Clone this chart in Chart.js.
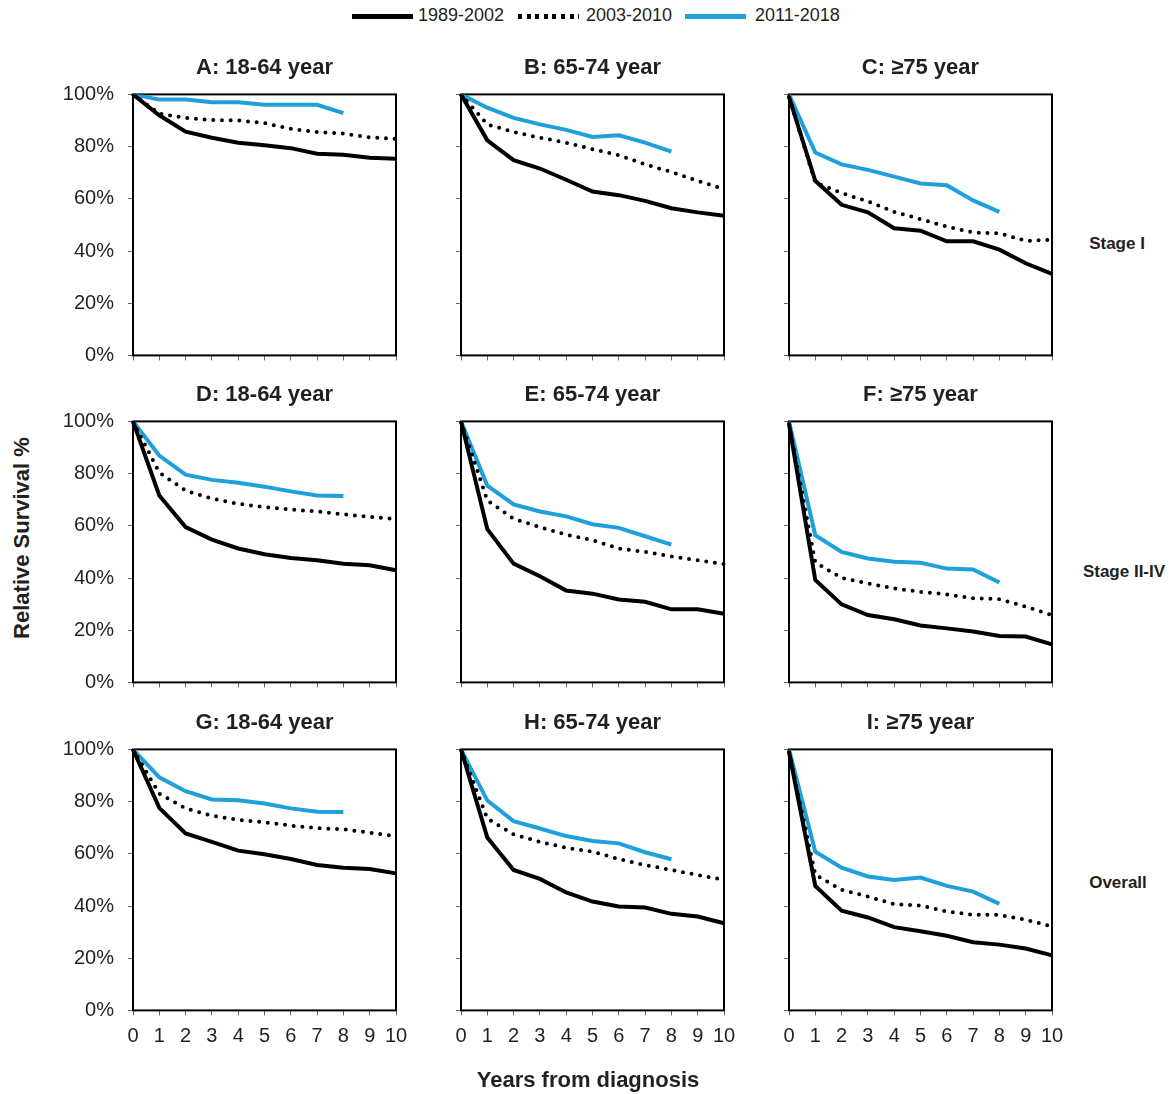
<!DOCTYPE html>
<html>
<head>
<meta charset="utf-8">
<title>Relative survival by stage and age</title>
<script src="https://cdn.jsdelivr.net/npm/chart.js@4.4.1/dist/chart.umd.min.js"></script>
<style>
body{margin:0;background:#fff;font-family:"Liberation Sans",Arial,sans-serif;color:#231f20;}
#page{position:relative;width:1174px;height:1094px;overflow:hidden;}
.box{position:absolute;}
.txt{position:absolute;white-space:nowrap;}
.key{position:absolute;height:5px;}
</style>
</head>
<body>
<div id="page"></div>
<script>
// x axis categories and legend names
const years = ['0','1','2','3','4','5','6','7','8','9','10'];
const periods = ['1989-2002','2003-2010','2011-2018'];
const panelTitles = ['A: 18-64 year','B: 65-74 year','C: \u226575 year',
                     'D: 18-64 year','E: 65-74 year','F: \u226575 year',
                     'G: 18-64 year','H: 65-74 year','I: \u226575 year'];
const rowLabels = ['Stage I','Stage II-IV','Overall'];

// relative survival %
const a1989 = [100,92,85.7,83.4,81.5,80.5,79.4,77.3,76.9,75.7,75.3];
const a2003 = [100,92.6,91,90.2,90,89,86.8,85.6,85,83.5,83];
const a2011 = [100,98,98,97,97,96,96,96,92.8];

const b1989 = [100,82.4,74.8,71.6,67.3,62.8,61.4,59.2,56.4,54.8,53.5];
const b2003 = [100,88.5,85.6,83.4,81.5,79,76.7,73.2,70.3,66.9,63.7];
const b2011 = [100,94.9,91,88.5,86.4,83.7,84.3,81.5,78.1];

const c1989 = [99,66.9,57.7,54.8,48.7,47.8,43.7,43.7,40.5,35.3,31.2];
const c2003 = [99,66.2,62.2,59,55,52.2,49.3,47.1,46.8,43.9,44.3];
const c2011 = [100,77.7,73.2,71.1,68.5,65.9,65.2,59.4,55];

const d1989 = [100,71.6,59.5,54.7,51.3,49.1,47.7,46.8,45.5,44.9,43];
const d2003 = [100,80.4,73.5,70.4,68.4,67.2,66.2,65.5,64.4,63.4,62.6];
const d2011 = [100,86.9,79.6,77.6,76.5,75,73.2,71.6,71.4];

const e1989 = [100,58.7,45.5,40.7,35.2,34,31.8,30.9,28,28,26.3];
const e2003 = [100,69.7,62.7,59.5,56.6,54.5,51.3,50,48.3,46.8,45.3];
const e2011 = [100,75.4,68.2,65.5,63.6,60.6,59.2,56,52.8];

const f1989 = [99,39.2,29.9,25.8,24.2,21.8,20.7,19.5,17.8,17.6,14.6];
const f2003 = [99,46,40,37.9,36,34.7,33.7,32.2,31.9,29,25.8];
const f2011 = [100,56.4,50,47.5,46.2,45.8,43.6,43.3,38.3];

const g1989 = [100,77.6,67.8,64.6,61.2,59.8,58,55.7,54.7,54.2,52.5];
const g2003 = [100,83,77.4,74.6,73,72.1,70.8,69.8,69.4,68.1,66.8];
const g2011 = [100,89.3,84,80.8,80.5,79.3,77.4,76.1,76];

const h1989 = [100,66.2,53.8,50.4,45.2,41.7,39.8,39.4,37,36,33.4];
const h2003 = [100,73.5,67.4,64.6,62.3,60.8,58,55.7,53.8,51.9,50];
const h2011 = [100,80.4,72.5,69.7,66.8,64.9,64,60.6,57.9];

const i1989 = [99,47.7,38.2,35.6,31.9,30.3,28.6,26.1,25.2,23.7,21.1];
const i2003 = [99,52,46.2,43.6,40.7,40.2,37.9,36.6,36.6,34.7,32.2];
const i2011 = [100,60.8,54.7,51.3,50,50.9,47.7,45.5,40.8];

const panelData = [
  [a1989,a2003,a2011],[b1989,b2003,b2011],[c1989,c2003,c2011],
  [d1989,d2003,d2011],[e1989,e2003,e2011],[f1989,f2003,f2011],
  [g1989,g2003,g2011],[h1989,h2003,h2011],[i1989,i2003,i2011]
];

const BLUE = '#1fa0da';
const INK = '#231f20';
const FONT = '"Liberation Sans", Arial, sans-serif';

// grid geometry (plot areas)
const colLeft = [133,461,789], rowTop = [94,421,749];
const plotW = 263, plotH = 261;
const yAxisW = 75, xAxisH = 44, padRight = 16;
const titleSize = 22, titlePadTop = 2, titlePadBottom = 13;
const titleH = titleSize*1.2 + titlePadTop + titlePadBottom;

const page = document.getElementById('page');

function addText(str, left, top, css){
  const el = document.createElement('div');
  el.className = 'txt';
  el.textContent = str;
  el.style.left = left + 'px';
  el.style.top = top + 'px';
  if (css) Object.assign(el.style, css);
  page.appendChild(el);
  return el;
}

// border round the plot area, under the lines
const frame = {
  id: 'frame',
  beforeDatasetsDraw(chart){
    const a = chart.chartArea, ctx = chart.ctx;
    ctx.save();
    ctx.strokeStyle = '#000';
    ctx.lineWidth = 2;
    ctx.strokeRect(a.left, a.top, a.right - a.left, a.bottom - a.top);
    ctx.restore();
  }
};

function makePanel(idx){
  const r = Math.floor(idx/3), c = idx%3;
  const showX = r === 2, showY = c === 0;
  const box = document.createElement('div');
  box.className = 'box';
  box.style.left = (colLeft[c] - yAxisW) + 'px';
  box.style.top = (rowTop[r] - titleH) + 'px';
  box.style.width = (yAxisW + plotW + padRight) + 'px';
  box.style.height = (titleH + plotH + xAxisH) + 'px';
  const cv = document.createElement('canvas');
  box.appendChild(cv);
  page.appendChild(box);

  const sets = panelData[idx];
  new Chart(cv.getContext('2d'), {
    type: 'line',
    data: {
      labels: years,
      datasets: [
        { label: periods[0], data: sets[0], borderColor: '#000', borderWidth: 4, pointRadius: 0 },
        { label: periods[1], data: sets[1], borderColor: '#000', borderWidth: 4, pointRadius: 0,
          borderDash: [0, 8.7], borderCapStyle: 'round' },
        { label: periods[2], data: sets[2], borderColor: BLUE, borderWidth: 4, pointRadius: 0 }
      ]
    },
    options: {
      responsive: true, maintainAspectRatio: false, animation: false,
      layout: { padding: { right: padRight } },
      plugins: {
        legend: { display: false },
        tooltip: { enabled: false },
        title: { display: true, text: panelTitles[idx], color: INK, fullSize: false,
                 font: { family: FONT, size: titleSize, weight: 'bold', lineHeight: 1.2 },
                 padding: { top: titlePadTop, bottom: titlePadBottom } }
      },
      scales: {
        x: {
          offset: false,
          border: { display: false },
          grid: { drawOnChartArea: false, tickLength: 5, color: '#666' },
          ticks: { autoSkip: false, maxRotation: 0, padding: 9, color: INK,
                   font: { family: FONT, size: 20 },
                   callback(v){ return showX ? this.getLabelForValue(v) : ''; } },
          afterFit(s){ s.height = xAxisH; s.paddingLeft = 0; s.paddingRight = 0; }
        },
        y: {
          min: 0, max: 100,
          border: { display: false },
          grid: { drawOnChartArea: false, tickLength: 5, color: '#666' },
          ticks: { stepSize: 20, padding: 14, color: INK,
                   font: { family: FONT, size: 20 },
                   callback(v){ return showY ? v + '%' : ''; } },
          afterFit(s){ s.width = yAxisW; s.paddingTop = 0; s.paddingBottom = 0; }
        }
      }
    },
    plugins: [frame]
  });
}

for (let i = 0; i < 9; i++) makePanel(i);

// shared legend
const keyLeft = [352, 518, 685], keyText = [418, 586, 755];
keyLeft.forEach((x, k) => {
  const key = document.createElement('div');
  key.className = 'key';
  key.style.left = x + 'px';
  key.style.top = '14px';
  key.style.width = '61px';
  if (k === 0) key.style.background = '#000';
  if (k === 1) key.style.background = 'repeating-linear-gradient(90deg,#000 0 4px,transparent 4px 8.6px)';
  if (k === 2) key.style.background = BLUE;
  page.appendChild(key);
  addText(periods[k], keyText[k], 5, { fontSize: '18px' });
});

// axis titles and row labels
addText('Relative Survival %', 22, 538, { fontSize: '22px', fontWeight: 'bold',
  transform: 'translate(-50%,-50%) rotate(-90deg)' });
addText('Years from diagnosis', 588, 1080, { fontSize: '22px', fontWeight: 'bold',
  transform: 'translate(-50%,-50%)' });
const rowLabelX = [1117, 1124, 1118], rowLabelY = [244, 572, 883];
rowLabels.forEach((t, k) => addText(t, rowLabelX[k], rowLabelY[k], { fontSize: '17px', fontWeight: 'bold',
  transform: 'translate(-50%,-50%)' }));
</script>
</body>
</html>
